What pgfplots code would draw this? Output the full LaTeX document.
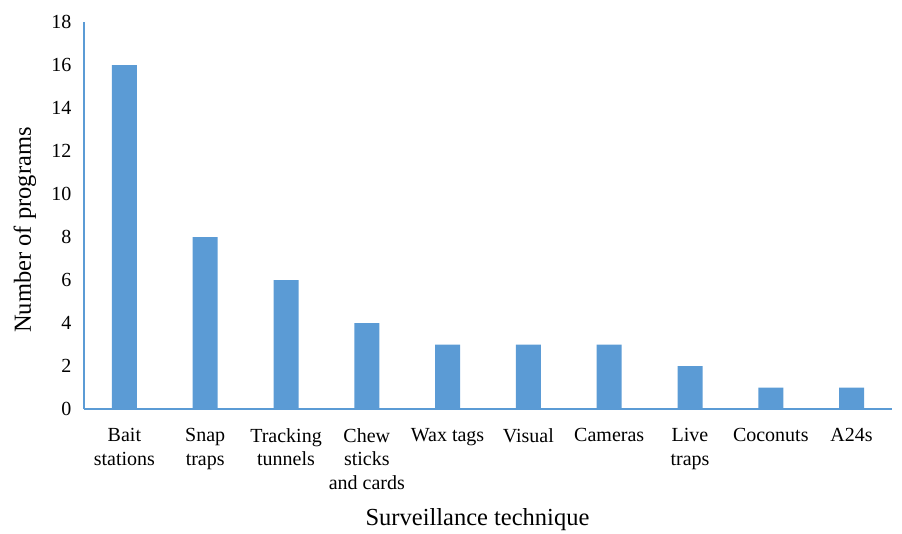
\documentclass[border=0pt]{standalone}
\usepackage{fontspec}
\setmainfont{Liberation Serif}
\usepackage{pgfplots}
\pgfplotsset{compat=1.18}
\definecolor{barblue}{HTML}{5B9BD5}
\begin{document}
\begin{tikzpicture}
\begin{axis}[
  scale only axis,
  width=808pt, height=387pt,
  xmin=-0.5, xmax=9.5, ymin=0, ymax=18,
  ytick={0,2,...,18},
  xtick={0,...,9},
  xticklabels={{Bait\\stations},{Snap\\traps},{Tracking\\tunnels},{Chew\\sticks\\and cards},{Wax tags},{Visual},{Cameras},{Live\\traps},{Coconuts},{A24s}},
  /pgf/number format/assume math mode=true,
  major tick length=0pt,
  axis x line*=bottom, axis y line*=left,
  axis line style={barblue, line width=1.3pt, -},
  xticklabel style={align=center, font=\fontsize{20}{23.5}\selectfont, anchor=north, yshift=-16pt},
  yticklabel style={font=\fontsize{20}{23}\selectfont, anchor=east, xshift=-9pt},
  every axis x label/.style={at={(axis description cs:0.487,0)}, anchor=base, yshift=-116pt, font=\fontsize{24.5}{28}\selectfont},
  every axis y label/.style={at={(axis description cs:-0.073,0.4625)}, anchor=center, rotate=90, font=\fontsize{24.5}{28}\selectfont},
  xlabel={Surveillance technique},
  ylabel={Number of programs},
  clip=false,
]
\addplot[ybar, bar width=25pt, fill=barblue, draw=none] coordinates {
(0,16) (1,8) (2,6) (3,4) (4,3) (5,3) (6,3) (7,2) (8,1) (9,1)};
\end{axis}
\useasboundingbox (-84pt,-119pt) rectangle (818pt,409pt);
\end{tikzpicture}
\end{document}
